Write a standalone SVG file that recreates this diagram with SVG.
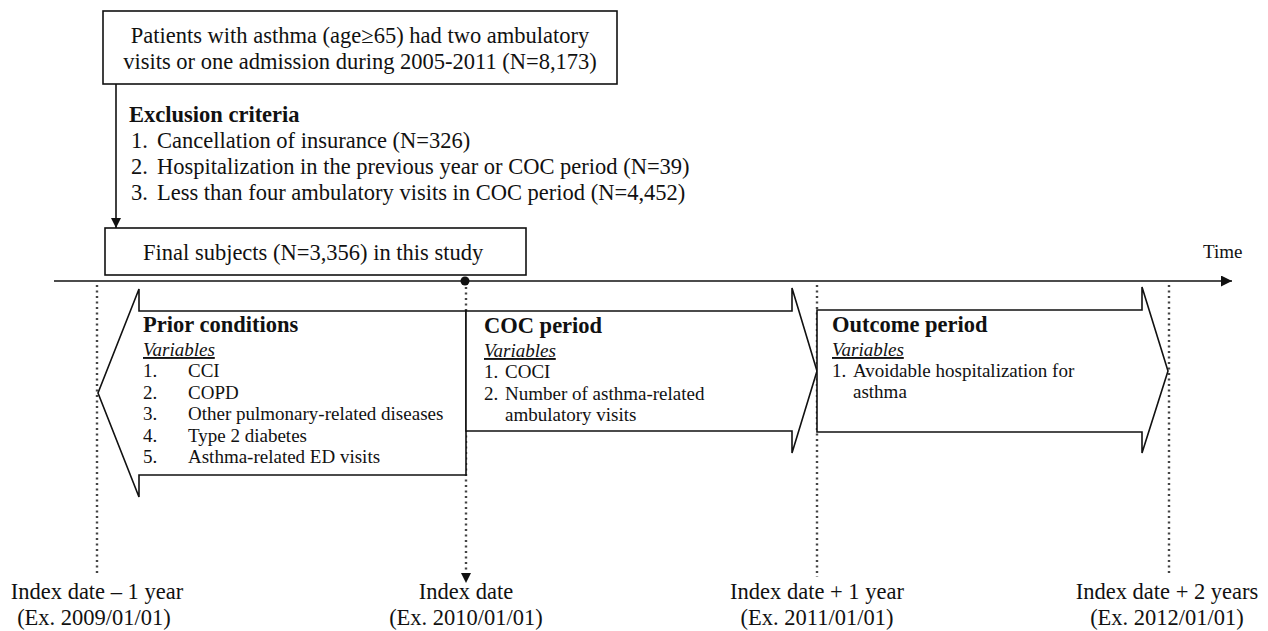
<svg xmlns="http://www.w3.org/2000/svg" width="1268" height="631" viewBox="0 0 1268 631">
<style>
text{font-family:"Liberation Serif","Times New Roman",serif;fill:#111}
.big{font-size:22.5px}
.sm{font-size:19px}
.b{font-weight:bold}
.var{font-style:italic;text-decoration:underline;font-size:19px}
.box{fill:#fff;stroke:#111;stroke-width:1.6}
.shape{fill:#fff;stroke:#111;stroke-width:1.6;stroke-linejoin:miter}
.dot{stroke:#444;stroke-width:2.4;stroke-dasharray:2,3.5;fill:none}
.line{stroke:#111;stroke-width:1.6;fill:none}
</style>
<defs>
<marker id="ah" viewBox="0 0 10 10" refX="10" refY="5" markerWidth="10" markerHeight="10" markerUnits="userSpaceOnUse" orient="auto">
<path d="M0,0 L10,5 L0,10 Z" fill="#111"/>
</marker>
<marker id="ah2" viewBox="0 0 10 10" refX="10" refY="5" markerWidth="14" markerHeight="11" markerUnits="userSpaceOnUse" orient="auto">
<path d="M0,0 L10,5 L0,10 Z" fill="#111"/>
</marker>
</defs>

<g id="connectors">
<line class="line" x1="54" y1="281" x2="1232" y2="281" stroke-width="2" marker-end="url(#ah2)"/>
<line class="line" x1="116" y1="84" x2="116" y2="228" marker-end="url(#ah)"/>
<line class="dot" x1="97" y1="285" x2="97" y2="576"/>
<line class="dot" x1="466" y1="287" x2="466" y2="574"/>
<path d="M461,573 L471,573 L466,583 Z" fill="#111"/>
<line class="dot" x1="817" y1="285" x2="817" y2="577"/>
<line class="dot" x1="1169" y1="285" x2="1169" y2="574"/>
<circle cx="465" cy="281" r="4.5" fill="#111"/>
</g>

<g id="top-box">
<rect class="box" x="103" y="11" width="514" height="73"/>
<text class="big" x="360" y="43" text-anchor="middle">Patients with asthma (age≥65) had two ambulatory</text>
<text class="big" x="360" y="69" text-anchor="middle">visits or one admission during 2005-2011 (N=8,173)</text>
</g>

<g id="exclusion">
<text class="big b" x="129" y="122">Exclusion criteria</text>
<text class="big" x="131" y="148">1.</text><text class="big" x="157" y="148">Cancellation of insurance (N=326)</text>
<text class="big" x="131" y="174">2.</text><text class="big" x="157" y="174">Hospitalization in the previous year or COC period (N=39)</text>
<text class="big" x="131" y="200">3.</text><text class="big" x="157" y="200">Less than four ambulatory visits in COC period (N=4,452)</text>
</g>

<g id="final-box">
<rect class="box" x="105" y="228" width="421" height="47"/>
<text class="big" x="143" y="260">Final subjects (N=3,356) in this study</text>
</g>

<g id="time-label">
<text class="sm" x="1203" y="258">Time</text>
</g>

<g id="prior">
<path class="shape" d="M466,311 L139,311 L139,289 L98,393 L139,497 L139,475 L466,475 Z"/>
<text class="big b" x="143" y="332">Prior conditions</text>
<text class="var" x="143" y="356">Variables</text>
<text class="sm" x="143" y="377">1.</text><text class="sm" x="188" y="377">CCI</text>
<text class="sm" x="143" y="398.5">2.</text><text class="sm" x="188" y="398.5">COPD</text>
<text class="sm" x="143" y="420">3.</text><text class="sm" x="188" y="420">Other pulmonary-related diseases</text>
<text class="sm" x="143" y="441.5">4.</text><text class="sm" x="188" y="441.5">Type 2 diabetes</text>
<text class="sm" x="143" y="463">5.</text><text class="sm" x="188" y="463">Asthma-related ED visits</text>
</g>

<g id="coc">
<path class="shape" d="M466,311 L792,311 L792,288 L817,371 L792,453 L792,431 L466,431 Z"/>
<text class="big b" x="484" y="333">COC period</text>
<text class="var" x="484" y="357">Variables</text>
<text class="sm" x="484" y="378">1.</text><text class="sm" x="505" y="378">COCI</text>
<text class="sm" x="484" y="399.5">2.</text><text class="sm" x="505" y="399.5">Number of asthma-related</text>
<text class="sm" x="505" y="421">ambulatory visits</text>
</g>

<g id="outcome">
<path class="shape" d="M817,310 L1142,310 L1142,287 L1168,371 L1142,453 L1142,432 L817,432 Z"/>
<text class="big b" x="832" y="332">Outcome period</text>
<text class="var" x="832" y="356">Variables</text>
<text class="sm" x="832" y="377">1.</text><text class="sm" x="853" y="377">Avoidable hospitalization for</text>
<text class="sm" x="853" y="398">asthma</text>
</g>

<g id="labels">
<text class="big" x="97" y="599" text-anchor="middle">Index date – 1 year</text>
<text class="big" x="94" y="625" text-anchor="middle">(Ex. 2009/01/01)</text>
<text class="big" x="466" y="599" text-anchor="middle">Index date</text>
<text class="big" x="466" y="625" text-anchor="middle">(Ex. 2010/01/01)</text>
<text class="big" x="817" y="599" text-anchor="middle">Index date + 1 year</text>
<text class="big" x="817" y="625" text-anchor="middle">(Ex. 2011/01/01)</text>
<text class="big" x="1167" y="599" text-anchor="middle">Index date + 2 years</text>
<text class="big" x="1167" y="625" text-anchor="middle">(Ex. 2012/01/01)</text>
</g>
</svg>
